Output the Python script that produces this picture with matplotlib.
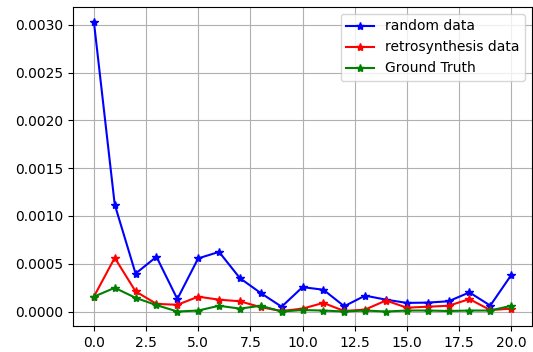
import matplotlib
matplotlib.use("Agg")
import matplotlib.pyplot as plt
import numpy as np

x = list(range(21))
random_data = [0.003036, 0.00112, 0.000397, 0.000573, 0.000131, 0.000556, 0.000624,
               0.000349, 0.000193, 0.00005, 0.000255, 0.000228, 0.000055, 0.000166,
               0.000124, 0.00009, 0.000093, 0.000107, 0.0002, 0.000062, 0.00038]
retro_data = [0.000155, 0.000562, 0.00021, 0.00008, 0.00007, 0.000155, 0.000124,
              0.000107, 0.000045, 0.000005, 0.00003, 0.00009, 0.000005, 0.00002,
              0.000115, 0.00004, 0.00005, 0.00006, 0.00013, 0.000015, 0.00003]
ground_truth = [0.000155, 0.000248, 0.000143, 0.000067, 0.0, 0.00001, 0.00006,
                0.00003, 0.00006, 0.0, 0.000015, 0.00001, 0.0, 0.00001,
                0.0, 0.00001, 0.00001, 0.000005, 0.00001, 0.00001, 0.00006]

fig = plt.figure(figsize=(5.33, 3.52), dpi=100)
ax = fig.add_axes([73/533, 26/352, 459/533, 319/352])
ax.plot(x, random_data, 'b-*', label='random data')
ax.plot(x, retro_data, 'r-*', label='retrosynthesis data')
ax.plot(x, ground_truth, 'g-*', label='Ground Truth')
ax.grid(True)
ax.legend(loc='upper right')
fig.savefig('out.png', dpi=100)
